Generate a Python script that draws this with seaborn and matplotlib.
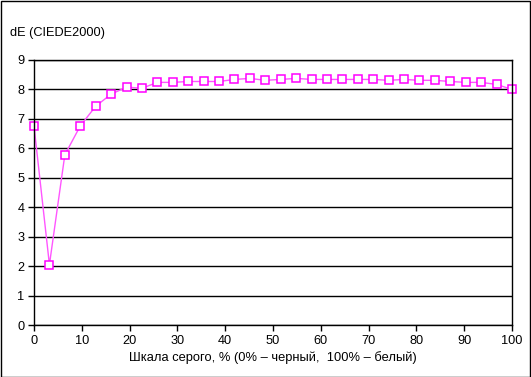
import matplotlib
matplotlib.use("Agg")
import matplotlib.pyplot as plt
import seaborn as sns
import numpy as np
import pandas as pd
from matplotlib.patches import Rectangle

gray_pct = [i * 100 / 31 for i in range(32)]
de_values = [6.76, 2.05, 5.78, 6.76, 7.43, 7.84, 8.08, 8.04, 8.24, 8.24,
             8.27, 8.27, 8.27, 8.34, 8.375, 8.31, 8.34, 8.375, 8.34, 8.34,
             8.34, 8.34, 8.34, 8.31, 8.34, 8.31, 8.31, 8.27, 8.24, 8.24,
             8.17, 8.0]
x_ticks = list(range(0, 101, 10))
y_ticks = list(range(0, 10))

sns.set_theme(style="white")
plt.rcParams['font.family'] = ['Liberation Sans', 'DejaVu Sans']

df = pd.DataFrame({"x": gray_pct, "y": de_values})

fig = plt.figure(figsize=(5.31, 3.77), dpi=100)
ax = fig.add_axes([34/531, 1 - 325/377, (512-34)/531, (325-60)/377])

sns.lineplot(data=df, x="x", y="y", ax=ax, color="#FF55FF", linewidth=1.0,
             marker="s", markersize=6, markerfacecolor="white",
             markeredgecolor="#FF00FF", markeredgewidth=1.1, clip_on=False)

ax.set_xlim(0, 100)
ax.set_ylim(0, 9)
ax.set_xticks(x_ticks)
ax.set_yticks(y_ticks)
ax.yaxis.grid(True, color="black", linewidth=1.0)
ax.set_axisbelow(True)
for s in ax.spines.values():
    s.set_color("black")
    s.set_linewidth(1.0)
    s.set_visible(True)
ax.tick_params(axis="both", direction="out", length=4, width=1, color="black",
               labelsize=9.2, labelcolor="black", bottom=True, left=True, pad=3)
ax.set_xlabel("Шкала серого, % (0% – черный,  100% – белый)", fontsize=9.3,
              color="black", labelpad=3)
ax.set_ylabel("")
fig.text(10/531, 1 - 33/377, "dE (CIEDE2000)", fontsize=9.2, color="black",
         ha="left", va="center")

fig.patches.append(Rectangle((0.5/531, 0.5/377), 529.5/531, 375.5/377,
                             transform=fig.transFigure, fill=False,
                             edgecolor="black", linewidth=1.0))

fig.savefig("out.png", dpi=100)
